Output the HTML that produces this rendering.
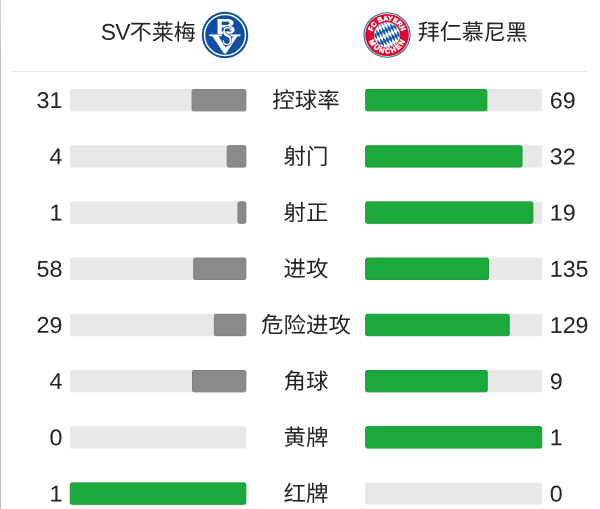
<!DOCTYPE html>
<html lang="zh-CN"><head><meta charset="utf-8"><title>技术统计</title>
<style>
html,body{margin:0;padding:0;background:#fff}
body{width:600px;height:509px;position:relative;overflow:hidden;font-family:"Liberation Sans","Noto Sans CJK SC",sans-serif;color:#232323}
.edge{position:absolute;left:0;top:0;width:1.3px;height:509px;background:linear-gradient(#d4d4d4,#bdbdbd 70px)}
.hr{position:absolute;left:12px;top:71px;width:575px;height:1px;background:#eaeaea}
.logo{position:absolute}
.tn b{font-weight:normal;font-size:22.8px;letter-spacing:-0.65px}
.tn{position:absolute;top:17px;transform:translate(0.7px,0.9px) rotate(0.2deg);height:30px;line-height:30px;font-size:22px;white-space:nowrap}
.bars{position:absolute;left:0;top:0}
.bars .t{fill:#e8e8e8}
.grn{fill:#1ba93c;stroke:#189a36;stroke-width:1;paint-order:fill}
.gry{fill:#8a8a8a;stroke:#7e7e7e;stroke-width:1;paint-order:fill}
.nl,.nr,.lab{position:absolute;top:0;height:30px;line-height:30px;font-size:22.8px;white-space:nowrap}
.nl{left:0;width:62px;text-align:right;transform-origin:100% 50%}
.nr{left:550px;transform-origin:0 50%}
.lab{left:206px;width:200px;text-align:center;font-size:22px}
</style></head><body>
<div class="edge"></div>
<div class="tn" style="left:100px;top:16px"><b>SV</b>不莱梅</div>
<svg class="logo" style="left:201.05px;top:10.7px" width="48" height="48" viewBox="-24 -24 48 48">
<circle r="23.2" fill="#0f4ea3"/>
<circle r="20.5" fill="none" stroke="#fff" stroke-width="1.5"/>
<text font-family="'Liberation Sans', sans-serif" font-weight="bold" font-size="22" fill="#fff" text-anchor="middle" transform="translate(0.75,-0.9) scale(1.27,1.03)">B</text>
<text font-family="'Liberation Serif', serif" font-size="27.5" fill="#fff" stroke="#fff" stroke-width="0.85" text-anchor="middle" transform="translate(-0.2,17.5) scale(1.55,1)">V</text>
<text font-family="'Liberation Serif', serif" font-size="20" fill="#fff" stroke="#0f4ea3" stroke-width="1.0" paint-order="stroke" text-anchor="middle" transform="translate(2.4,9.9) scale(0.95,1.38)">S</text>
</svg>
<svg class="logo" style="left:362.85px;top:10.85px;transform:scaleY(0.968)" width="48" height="48" viewBox="-24 -24 48 48">
<defs><clipPath id="cin"><circle r="12.7"/></clipPath>
<path id="arcT" d="M -14.8 0 A 14.8 14.8 0 0 1 14.8 0"/>
<path id="arcB" d="M -19.1 0 A 19.1 19.1 0 0 0 19.1 0"/></defs>
<circle r="23.6" fill="#2d6d96"/>
<circle r="22.45" fill="#fff"/>
<circle r="21.8" fill="#e0062c"/>
<circle r="13.1" fill="#fff"/>
<circle r="12.7" fill="#0e57a8"/>
<g clip-path="url(#cin)" fill="#fff">
<polygon points="-18.20,8.45 -18.80,3.30 -15.40,7.15 -14.80,12.30"/>
<polygon points="-19.40,-1.85 -20.00,-7.00 -16.60,-3.15 -16.00,2.00"/>
<polygon points="-15.40,7.15 -16.00,2.00 -12.60,5.85 -12.00,11.00"/>
<polygon points="-11.40,16.15 -12.00,11.00 -8.60,14.85 -8.00,20.00"/>
<polygon points="-16.60,-3.15 -17.20,-8.30 -13.80,-4.45 -13.20,0.70"/>
<polygon points="-12.60,5.85 -13.20,0.70 -9.80,4.55 -9.20,9.70"/>
<polygon points="-8.60,14.85 -9.20,9.70 -5.80,13.55 -5.20,18.70"/>
<polygon points="-13.80,-4.45 -14.40,-9.60 -11.00,-5.75 -10.40,-0.60"/>
<polygon points="-9.80,4.55 -10.40,-0.60 -7.00,3.25 -6.40,8.40"/>
<polygon points="-5.80,13.55 -6.40,8.40 -3.00,12.25 -2.40,17.40"/>
<polygon points="-11.00,-5.75 -11.60,-10.90 -8.20,-7.05 -7.60,-1.90"/>
<polygon points="-7.00,3.25 -7.60,-1.90 -4.20,1.95 -3.60,7.10"/>
<polygon points="-3.00,12.25 -3.60,7.10 -0.20,10.95 0.40,16.10"/>
<polygon points="-12.20,-16.05 -12.80,-21.20 -9.40,-17.35 -8.80,-12.20"/>
<polygon points="-8.20,-7.05 -8.80,-12.20 -5.40,-8.35 -4.80,-3.20"/>
<polygon points="-4.20,1.95 -4.80,-3.20 -1.40,0.65 -0.80,5.80"/>
<polygon points="-0.20,10.95 -0.80,5.80 2.60,9.65 3.20,14.80"/>
<polygon points="3.80,19.95 3.20,14.80 6.60,18.65 7.20,23.80"/>
<polygon points="-9.40,-17.35 -10.00,-22.50 -6.60,-18.65 -6.00,-13.50"/>
<polygon points="-5.40,-8.35 -6.00,-13.50 -2.60,-9.65 -2.00,-4.50"/>
<polygon points="-1.40,0.65 -2.00,-4.50 1.40,-0.65 2.00,4.50"/>
<polygon points="2.60,9.65 2.00,4.50 5.40,8.35 6.00,13.50"/>
<polygon points="6.60,18.65 6.00,13.50 9.40,17.35 10.00,22.50"/>
<polygon points="-6.60,-18.65 -7.20,-23.80 -3.80,-19.95 -3.20,-14.80"/>
<polygon points="-2.60,-9.65 -3.20,-14.80 0.20,-10.95 0.80,-5.80"/>
<polygon points="1.40,-0.65 0.80,-5.80 4.20,-1.95 4.80,3.20"/>
<polygon points="5.40,8.35 4.80,3.20 8.20,7.05 8.80,12.20"/>
<polygon points="9.40,17.35 8.80,12.20 12.20,16.05 12.80,21.20"/>
<polygon points="0.20,-10.95 -0.40,-16.10 3.00,-12.25 3.60,-7.10"/>
<polygon points="4.20,-1.95 3.60,-7.10 7.00,-3.25 7.60,1.90"/>
<polygon points="8.20,7.05 7.60,1.90 11.00,5.75 11.60,10.90"/>
<polygon points="3.00,-12.25 2.40,-17.40 5.80,-13.55 6.40,-8.40"/>
<polygon points="7.00,-3.25 6.40,-8.40 9.80,-4.55 10.40,0.60"/>
<polygon points="11.00,5.75 10.40,0.60 13.80,4.45 14.40,9.60"/>
<polygon points="5.80,-13.55 5.20,-18.70 8.60,-14.85 9.20,-9.70"/>
<polygon points="9.80,-4.55 9.20,-9.70 12.60,-5.85 13.20,-0.70"/>
<polygon points="13.80,4.45 13.20,-0.70 16.60,3.15 17.20,8.30"/>
<polygon points="8.60,-14.85 8.00,-20.00 11.40,-16.15 12.00,-11.00"/>
<polygon points="12.60,-5.85 12.00,-11.00 15.40,-7.15 16.00,-2.00"/>
<polygon points="16.60,3.15 16.00,-2.00 19.40,1.85 20.00,7.00"/>
<polygon points="15.40,-7.15 14.80,-12.30 18.20,-8.45 18.80,-3.30"/>
</g>
<g font-family="'Liberation Sans', sans-serif" font-weight="bold" fill="#fff" text-anchor="middle">
<text font-size="7.0" stroke="#fff" stroke-width="0.5"><textPath href="#arcT" startOffset="50%" textLength="39" lengthAdjust="spacingAndGlyphs">FC BAYERN</textPath></text>
<text font-size="7.3" stroke="#fff" stroke-width="0.5"><textPath href="#arcB" startOffset="50%" textLength="46.6" lengthAdjust="spacing">MÜNCHEN</textPath></text>
</g></svg>
<div class="tn" style="left:417px">拜仁慕尼黑</div>
<div class="hr"></div>
<svg class="bars" width="600" height="509" viewBox="0 0 600 509">
<rect class="t" x="69.8" y="89.00" width="176.5" height="22.35" rx="1.5"/>
<rect class="t" x="365.2" y="89.00" width="177.0" height="22.35" rx="1.5"/>
<rect class="gry" x="192.09" y="89.50" width="53.72" height="21.35" rx="1.5"/>
<rect class="grn" x="365.70" y="89.50" width="121.13" height="21.35" rx="1.5"/>
<rect class="t" x="69.8" y="145.20" width="176.5" height="22.35" rx="1.5"/>
<rect class="t" x="365.2" y="145.20" width="177.0" height="22.35" rx="1.5"/>
<rect class="gry" x="227.19" y="145.70" width="18.61" height="21.35" rx="1.5"/>
<rect class="grn" x="365.70" y="145.70" width="156.33" height="21.35" rx="1.5"/>
<rect class="t" x="69.8" y="201.40" width="176.5" height="22.35" rx="1.5"/>
<rect class="t" x="365.2" y="201.40" width="177.0" height="22.35" rx="1.5"/>
<rect class="gry" x="237.98" y="201.90" width="7.82" height="21.35" rx="1.5"/>
<rect class="grn" x="365.70" y="201.90" width="167.15" height="21.35" rx="1.5"/>
<rect class="t" x="69.8" y="257.60" width="176.5" height="22.35" rx="1.5"/>
<rect class="t" x="365.2" y="257.60" width="177.0" height="22.35" rx="1.5"/>
<rect class="gry" x="193.76" y="258.10" width="52.04" height="21.35" rx="1.5"/>
<rect class="grn" x="365.70" y="258.10" width="122.81" height="21.35" rx="1.5"/>
<rect class="t" x="69.8" y="313.80" width="176.5" height="22.35" rx="1.5"/>
<rect class="t" x="365.2" y="313.80" width="177.0" height="22.35" rx="1.5"/>
<rect class="gry" x="214.40" y="314.30" width="31.40" height="21.35" rx="1.5"/>
<rect class="grn" x="365.70" y="314.30" width="143.51" height="21.35" rx="1.5"/>
<rect class="t" x="69.8" y="370.00" width="176.5" height="22.35" rx="1.5"/>
<rect class="t" x="365.2" y="370.00" width="177.0" height="22.35" rx="1.5"/>
<rect class="gry" x="192.49" y="370.50" width="53.31" height="21.35" rx="1.5"/>
<rect class="grn" x="365.70" y="370.50" width="121.54" height="21.35" rx="1.5"/>
<rect class="t" x="69.8" y="426.20" width="176.5" height="22.35" rx="1.5"/>
<rect class="t" x="365.2" y="426.20" width="177.0" height="22.35" rx="1.5"/>
<rect class="grn" x="365.70" y="426.70" width="176.00" height="21.35" rx="1.5"/>
<rect class="t" x="69.8" y="482.40" width="176.5" height="22.35" rx="1.5"/>
<rect class="t" x="365.2" y="482.40" width="177.0" height="22.35" rx="1.5"/>
<rect class="grn" x="70.30" y="482.90" width="175.50" height="21.35" rx="1.5"/>
</svg>
<span class="nl" style="transform:translate(0.45px,85.15px) rotate(0.25deg) scaleX(1.02)">31</span>
<span class="lab" style="transform:translateY(85.95px) rotate(0.2deg) scaleX(1.02)">控球率</span>
<span class="nr" style="transform:translate(-0.25px,85.15px) rotate(0.25deg) scaleX(1.02)">69</span>
<span class="nl" style="transform:translate(0.45px,141.35px) rotate(0.25deg) scaleX(1.02)">4</span>
<span class="lab" style="transform:translateY(142.15px) rotate(0.2deg) scaleX(1.02)">射门</span>
<span class="nr" style="transform:translate(-0.25px,141.35px) rotate(0.25deg) scaleX(1.02)">32</span>
<span class="nl" style="transform:translate(0.45px,197.55px) rotate(0.25deg) scaleX(1.02)">1</span>
<span class="lab" style="transform:translateY(198.35px) rotate(0.2deg) scaleX(1.02)">射正</span>
<span class="nr" style="transform:translate(-0.25px,197.55px) rotate(0.25deg) scaleX(1.02)">19</span>
<span class="nl" style="transform:translate(0.45px,253.75px) rotate(0.25deg) scaleX(1.02)">58</span>
<span class="lab" style="transform:translateY(254.55px) rotate(0.2deg) scaleX(1.02)">进攻</span>
<span class="nr" style="transform:translate(-0.25px,253.75px) rotate(0.25deg) scaleX(1.02)">135</span>
<span class="nl" style="transform:translate(0.45px,309.95px) rotate(0.25deg) scaleX(1.02)">29</span>
<span class="lab" style="transform:translateY(310.75px) rotate(0.2deg) scaleX(1.02)">危险进攻</span>
<span class="nr" style="transform:translate(-0.25px,309.95px) rotate(0.25deg) scaleX(1.02)">129</span>
<span class="nl" style="transform:translate(0.45px,366.15px) rotate(0.25deg) scaleX(1.02)">4</span>
<span class="lab" style="transform:translateY(366.95px) rotate(0.2deg) scaleX(1.02)">角球</span>
<span class="nr" style="transform:translate(-0.25px,366.15px) rotate(0.25deg) scaleX(1.02)">9</span>
<span class="nl" style="transform:translate(0.45px,422.35px) rotate(0.25deg) scaleX(1.02)">0</span>
<span class="lab" style="transform:translateY(423.15px) rotate(0.2deg) scaleX(1.02)">黄牌</span>
<span class="nr" style="transform:translate(-0.25px,422.35px) rotate(0.25deg) scaleX(1.02)">1</span>
<span class="nl" style="transform:translate(0.45px,478.55px) rotate(0.25deg) scaleX(1.02)">1</span>
<span class="lab" style="transform:translateY(479.35px) rotate(0.2deg) scaleX(1.02)">红牌</span>
<span class="nr" style="transform:translate(-0.25px,478.55px) rotate(0.25deg) scaleX(1.02)">0</span>
</body></html>
